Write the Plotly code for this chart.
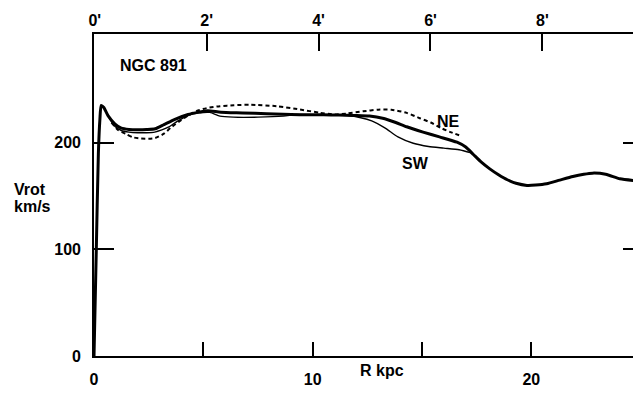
import plotly.graph_objects as go

# Rotation curve of NGC 891 (radius in kpc, rotation velocity in km/s)
r_mean = [0, 0.1, 0.2, 0.27, 0.33, 0.45, 0.64, 0.95, 1.25, 1.6, 2.0, 2.4, 2.8, 3.2,
          3.7, 4.3, 4.8, 5.2, 5.8, 6.8, 7.9, 9.4, 10.5, 11.2, 11.9, 12.6, 13.2, 13.8,
          14.3, 15.05, 15.8, 16.6, 17.0, 17.35, 17.7, 18.1, 18.5, 18.9, 19.3, 19.8,
          20.2, 20.7, 21.3, 21.9, 22.4, 22.8, 23.4, 24.05, 24.7]
v_mean = [0, 95, 190, 222, 235, 233, 225.5, 217.8, 213.7, 212.5, 212.2, 212.4, 213.1, 217,
          222, 226.5, 228.7, 230, 228.7, 228, 227.2, 226.3, 226.2, 226, 225.6, 225, 223, 219,
          215, 210, 205.5, 200.5, 196, 189, 182, 175.5, 170, 165.3, 162, 160,
          160.3, 161.5, 165, 168.4, 170.5, 171.5, 170.5, 166.2, 164.6]

r_sw = [0.64, 0.95, 1.25, 1.6, 2.0, 2.4, 2.78, 3.1, 3.4, 3.8, 4.3, 4.8, 5.3, 5.76, 6.37,
        7.5, 8.66, 9.27, 10.0, 10.8, 11.6, 12.2, 12.7, 13.3, 13.9, 14.6, 15.3, 16.0,
        16.7, 17.25]
v_sw = [225.5, 215.5, 211.5, 210, 209.4, 209.4, 210, 212, 214.6, 220, 225.5, 228, 228.5,
        225, 224, 224, 225, 226.5, 226.2, 226, 225.5, 223.5, 220.5, 214, 205.5, 199.5,
        196.5, 195, 193.5, 190.5]

r_ne = [0.8, 1.1, 1.48, 1.8, 2.15, 2.5, 2.8, 3.2, 3.5, 3.9, 4.3, 4.76, 5.15, 5.76, 6.4,
        7.13, 8.35, 9.42, 10.33, 11.0, 11.6, 12.3, 13.0, 13.6, 14.3, 14.9, 15.4, 15.9,
        16.3, 16.7]
v_ne = [219, 212, 208, 205, 204, 203.8, 204.5, 208.5, 214, 220, 225.5, 230.3, 232.5,
        234.3, 235.2, 235.6, 234.3, 231.2, 228.1, 226.5, 227.5, 229.5, 231, 231, 228, 223,
        219, 213.5, 210, 207]

# Axis ticks
r_ticks = [0, 5, 10, 15, 20]
r_labels = ["0", "", "10", "", "20"]
arcmin_ticks = [0, 2, 4, 6, 8]
arcmin_labels = ["0'", "2'", "4'", "6'", "8'"]
v_ticks = [0, 100, 200]
v_labels = ["0", "100", "200"]

FONT = "Liberation Sans, Arial, Helvetica, sans-serif"
tf = dict(family=FONT, size=16, color="black", weight="bold")

fig = go.Figure()
fig.add_trace(go.Scatter(x=r_ne, y=v_ne, mode="lines",
                         line=dict(color="black", width=2, dash="4px,3px",
                                   shape="spline", smoothing=0.6),
                         showlegend=False))
fig.add_trace(go.Scatter(x=r_sw, y=v_sw, mode="lines",
                         line=dict(color="black", width=1.4,
                                   shape="spline", smoothing=0.6),
                         showlegend=False))
fig.add_trace(go.Scatter(x=r_mean, y=v_mean, mode="lines",
                         line=dict(color="black", width=3,
                                   shape="spline", smoothing=0.6),
                         showlegend=False))

# empty carriers so the arcminute scale (top) and the mirrored ticks (right) are drawn
fig.add_trace(go.Scatter(x=arcmin_ticks, y=[None] * len(arcmin_ticks), xaxis="x2", yaxis="y",
                         mode="markers", marker=dict(opacity=0), hoverinfo="skip",
                         showlegend=False))
fig.add_trace(go.Scatter(x=[None] * len(v_ticks), y=v_ticks, xaxis="x", yaxis="y2",
                         mode="markers", marker=dict(opacity=0), hoverinfo="skip",
                         showlegend=False))

fig.update_layout(
    width=633, height=402,
    margin=dict(l=94, r=0, t=34, b=46),
    paper_bgcolor="white", plot_bgcolor="white",
    font=tf,
    xaxis=dict(range=[0, 24.65], showgrid=False, zeroline=False,
               showline=True, linecolor="black", linewidth=1.6,
               ticks="inside", ticklen=14, tickwidth=1.6, tickcolor="black",
               tickvals=r_ticks, ticktext=r_labels, tickfont=tf,
               ticklabelstandoff=8),
    xaxis2=dict(range=[-0.014, 9.62], overlaying="x", side="top", anchor="y",
                showgrid=False, zeroline=False,
                showline=True, linecolor="black", linewidth=1.6,
                ticks="inside", ticklen=17, tickwidth=1.6, tickcolor="black",
                tickvals=arcmin_ticks, ticktext=arcmin_labels, tickfont=tf,
                ticklabelstandoff=0),
    yaxis=dict(range=[0, 302], showgrid=False, zeroline=False,
               showline=True, linecolor="black", linewidth=1.6,
               ticks="inside", ticklen=20, tickwidth=1.6, tickcolor="black",
               tickvals=v_ticks, ticktext=v_labels, tickfont=tf,
               ticklabelstandoff=8),
    yaxis2=dict(range=[0, 302], overlaying="y", side="right", anchor="x",
                showgrid=False, zeroline=False, showline=False,
                ticks="inside", ticklen=10, tickwidth=1.6, tickcolor="black",
                tickvals=[100, 200], showticklabels=False),
)

ann = dict(showarrow=False, font=tf)
fig.add_annotation(x=2.74, y=272.5, text="NGC 891", xanchor="center", yanchor="middle", **ann)
fig.add_annotation(x=16.19, y=220, text="NE", xanchor="center", yanchor="middle", **ann)
fig.add_annotation(x=14.72, y=181, text="SW", xanchor="center", yanchor="middle", **ann)
fig.add_annotation(x=13.17, y=-0.0435, yref="paper", text="R kpc",
                   xanchor="center", yanchor="middle", **ann)
fig.add_annotation(x=-0.152, y=0.5186, xref="paper", yref="paper", text="Vrot",
                   xanchor="left", yanchor="middle", **ann)
fig.add_annotation(x=-0.152, y=0.4658, xref="paper", yref="paper", text="km/s",
                   xanchor="left", yanchor="middle", **ann)

fig.write_html("out.html")
